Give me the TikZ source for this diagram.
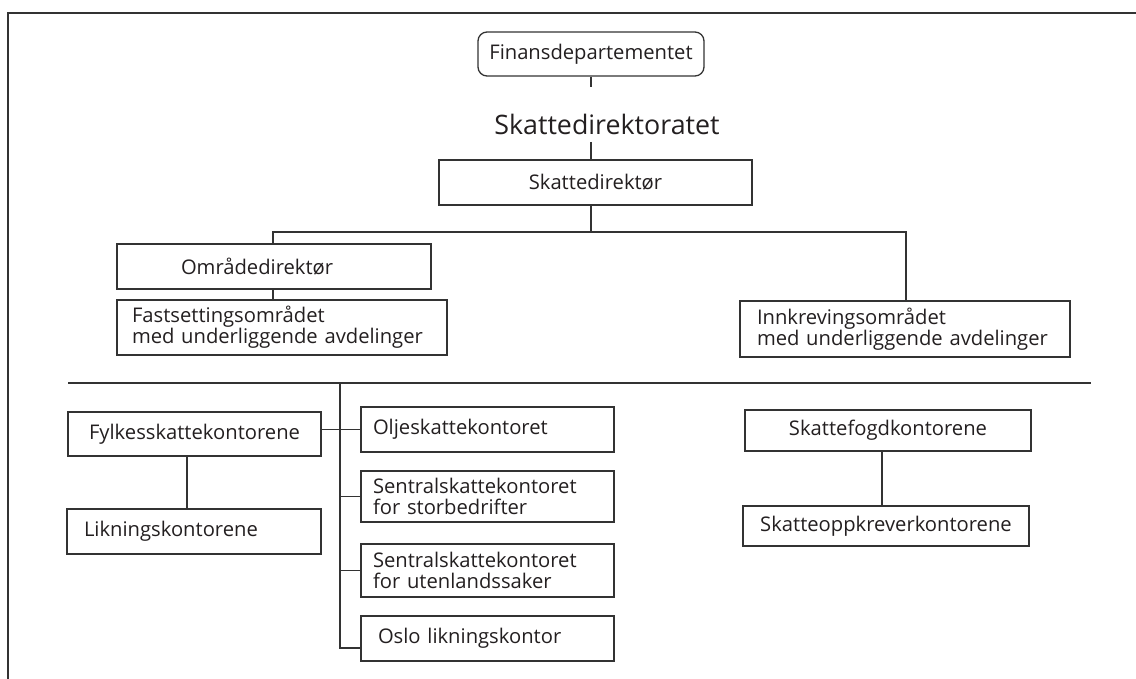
\documentclass[tikz,border=0pt]{standalone}
\usepackage{fontspec}
\setmainfont{Open Sans}
\definecolor{ink}{HTML}{231F20}
\definecolor{rule}{HTML}{333333}
\newcommand{\fsbox}{\fontsize{20.2}{20.7}\selectfont}
\newcommand{\fstitle}{\fontsize{26.8}{30}\selectfont}
\begin{document}
\begin{tikzpicture}[x=1pt,y=-1pt,
  orgbox/.style={draw=rule, line width=1.3pt, text=ink, font=\fsbox, inner ysep=0pt, inner xsep=0pt},
  cbox/.style={orgbox, align=center},
  lbox/.style n args={3}{orgbox, minimum height=#2, text width=#1-2*#3, inner xsep=#3, align=left},
  conn/.style={draw=rule, line width=1.3pt}]
\useasboundingbox (0,0) rectangle (1136,679);
% frame
\coordinate (frTR) at (1136,13);
\coordinate (frTL) at (8,13);
\coordinate (frBL) at (8,679);
\draw[draw=rule, line width=2pt] (frTR) -- (frTL) -- (frBL);

% top
\node[cbox, rounded corners=9pt, minimum width=226, minimum height=44] (fin) at (591,54) {Finansdepartementet};
\node[font=\fstitle, text=ink, anchor=base, inner sep=0pt] (title) at (607,135) {Skattedirektoratet};
\node[cbox, minimum width=313, minimum height=45] (sdir) at (595.5,182.5) {Skattedirekt\o r};
\coordinate (t1) at (591,87);
\coordinate (t2) at (591,142);
\draw[conn] (fin.south -| t1) -- (t1);
\draw[conn] (t2) -- (t2 |- sdir.north);

% second level
\node[lbox={314}{45}{64}] (omr) at (274,266.5) {Omr\aa dedirekt\o r};
\node[lbox={330}{55}{15}] (fast) at (282,327.5) {Fastsettingsomr\aa det\\med underliggende avdelinger};
\node[lbox={330}{56}{17}] (innk) at (905,329) {Innkrevingsomr\aa det\\med underliggende avdelinger};
\coordinate (bus) at (591,232);
\coordinate (busL) at (273,232);
\coordinate (busR) at (906,232);
\draw[conn] (sdir.south -| bus) -- (bus);
\draw[conn] (omr.north -| busL) -- (busL) -- (busR) -- (busR |- innk.north);
\draw[conn] (omr.south -| busL) -- (busL |- fast.north);

% separator
\coordinate (sepL) at (68,383);
\coordinate (sepR) at (1091,383);
\draw[conn] (sepL) -- (sepR);

% lower left
\node[cbox, minimum width=253, minimum height=44] (fylk) at (194.5,434) {Fylkesskattekontorene};
\node[lbox={254}{45}{17}] (likn) at (194,531.5) {Likningskontorene};
\node[lbox={253}{45}{12}] (olje) at (487.5,429.5) {Oljeskattekontoret};
\node[lbox={253}{51}{12}] (sent1) at (487.5,496.5) {Sentralskattekontoret\\for storbedrifter};
\node[lbox={253}{53}{12}] (sent2) at (487.5,570.5) {Sentralskattekontoret\\for utenlandssaker};
\node[lbox={253}{45}{17}] (oslo) at (487.5,638.5) {Oslo likningskontor};
\coordinate (vtop) at (340,383);
\coordinate (vbot) at (340,648);
\coordinate (fl) at (187,0);
\draw[conn] (fylk.east |- olje.west) -- (olje.west);
\draw[conn] (fylk.south -| fl) -- (likn.north -| fl);
\draw[conn] (vtop) -- (vbot) -- (vbot -| oslo.west);
\draw[conn] (vtop |- sent1.west) -- (sent1.west);
\draw[conn] (vtop |- sent2.west) -- (sent2.west);

% lower right
\node[cbox, minimum width=286, minimum height=41] (fogd) at (888,430.5) {Skattefogdkontorene};
\node[cbox, minimum width=286, minimum height=40] (oppk) at (886,526) {Skatteoppkreverkontorene};
\coordinate (fo) at (882,0);
\draw[conn] (fogd.south -| fo) -- (oppk.north -| fo);
\end{tikzpicture}
\end{document}
